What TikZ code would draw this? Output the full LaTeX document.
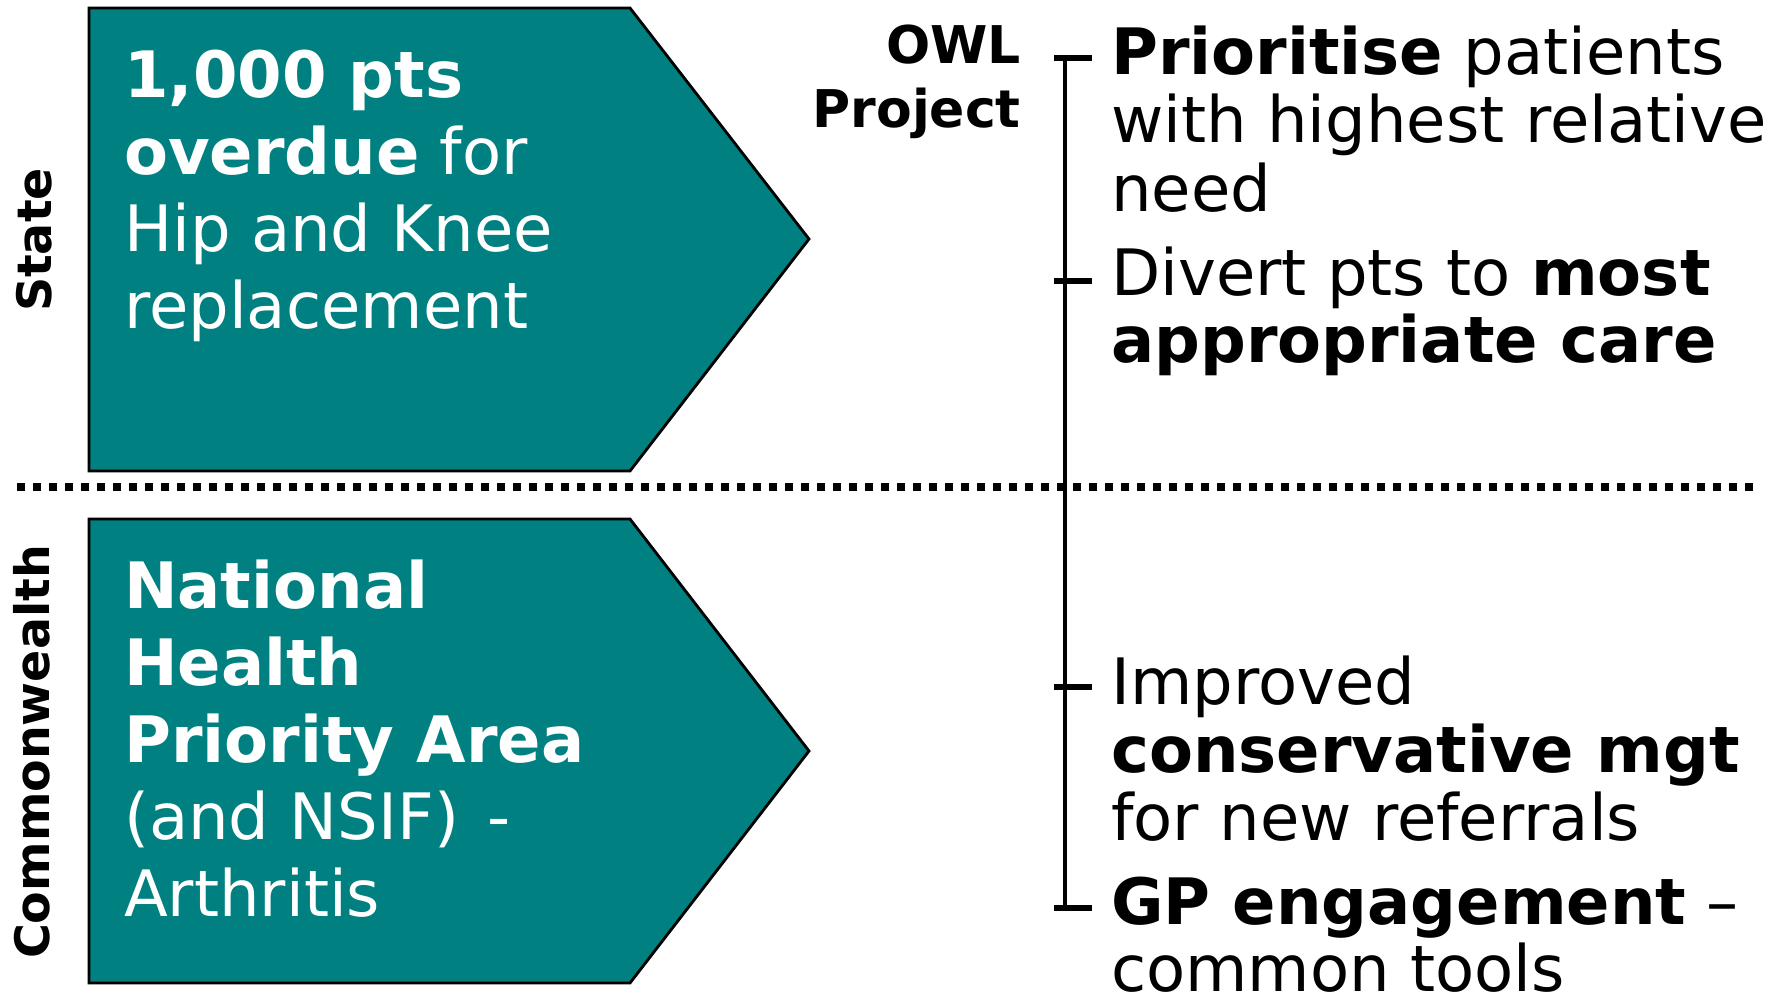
\documentclass[tikz,border=0pt]{standalone}
\usepackage{fontspec}
\setmainfont{DejaVu Sans}

\definecolor{chevronteal}{RGB}{0,128,128}

% stacked lines with a fixed baseline distance; the box's baseline is the first line's
\newcommand{\leftrows}[2]{\vtop{\baselineskip=#1\relax\lineskiplimit=-200pt\halign{##\hfil\cr#2\crcr}}}
\newcommand{\rightrows}[2]{\vtop{\baselineskip=#1\relax\lineskiplimit=-200pt\halign{\hfil##\cr#2\crcr}}}

\begin{document}
\begin{tikzpicture}[x=1pt,y=-1pt,
  chevron/.style={fill=chevronteal, draw=black, line width=2.8pt, line join=miter},
  boxtext/.style={anchor=base west, inner sep=0pt, text=white, font=\fontsize{64}{77}\selectfont},
  itemtext/.style={anchor=base west, inner sep=0pt, text=black, font=\fontsize{64}{68}\selectfont},
  sidelabel/.style={rotate=90, inner sep=0pt, font=\bfseries\fontsize{47.5}{56}\selectfont},
  headtext/.style={anchor=base east, inner sep=0pt, font=\bfseries\fontsize{52}{63}\selectfont},
  bracket/.style={line width=4pt},
  tickmark/.style={line width=5.5pt},
  divider/.style={line width=8pt, dash pattern=on 8pt off 8pt}]

\useasboundingbox (0,0) rectangle (1787,997);

% the two chevrons
\draw[chevron] (89,8) -- (630,8) -- (809,239) -- (630,471) -- (89,471) -- cycle;
\draw[chevron] (89,519) -- (630,519) -- (809,751) -- (630,983) -- (89,983) -- cycle;

% chevron texts
\node[boxtext] (statetext) at (124,97)
  {\leftrows{77pt}{\textbf{1,000 pts}\cr\textbf{overdue} for\cr Hip and Knee\cr replacement}};
\node[boxtext] (cwtext) at (124,608)
  {\leftrows{77pt}{\textbf{National}\cr\textbf{Health}\cr\textbf{Priority Area}\cr (and NSIF)\hspace{0.45em}-\cr Arthritis}};

% side labels
\node[sidelabel] (statelabel) at (34,240) {State};
\node[sidelabel] (cwlabel) at (32,752) {Commonwealth};

% dotted divider between the two levels
\coordinate (divl) at (17,487);
\coordinate (divr) at (1753,487);
\draw[divider] (divl) -- (divr);

% project heading
\node[headtext] (owl) at (1021,63) {\rightrows{64pt}{OWL\cr Project}};

% bracket with its ticks
\coordinate (btop) at (1065,58);
\coordinate (bbot) at (1065,908);
\draw[bracket] (btop) -- (bbot);
\foreach \ty/\tn in {58/ta, 281/tb, 687/tc, 908/td} {
  \coordinate (\tn l) at (1054,\ty);
  \coordinate (\tn r) at (1092,\ty);
  \draw[tickmark] (\tn l) -- (\tn r);
}

% project items
\node[itemtext] (item1) at (1111,74)
  {\leftrows{68.5pt}{\textbf{Prioritise} patients\cr with highest relative\cr need}};
\node[itemtext] (item2) at (1111,295)
  {\leftrows{67pt}{Divert pts to \textbf{most}\cr\textbf{appropriate care}}};
\node[itemtext] (item3) at (1111,704)
  {\leftrows{68pt}{Improved\cr\textbf{conservative mgt}\cr for new referrals}};
\node[itemtext] (item4) at (1111,924)
  {\leftrows{67pt}{\textbf{GP engagement} –\cr common tools}};

\end{tikzpicture}
\end{document}
